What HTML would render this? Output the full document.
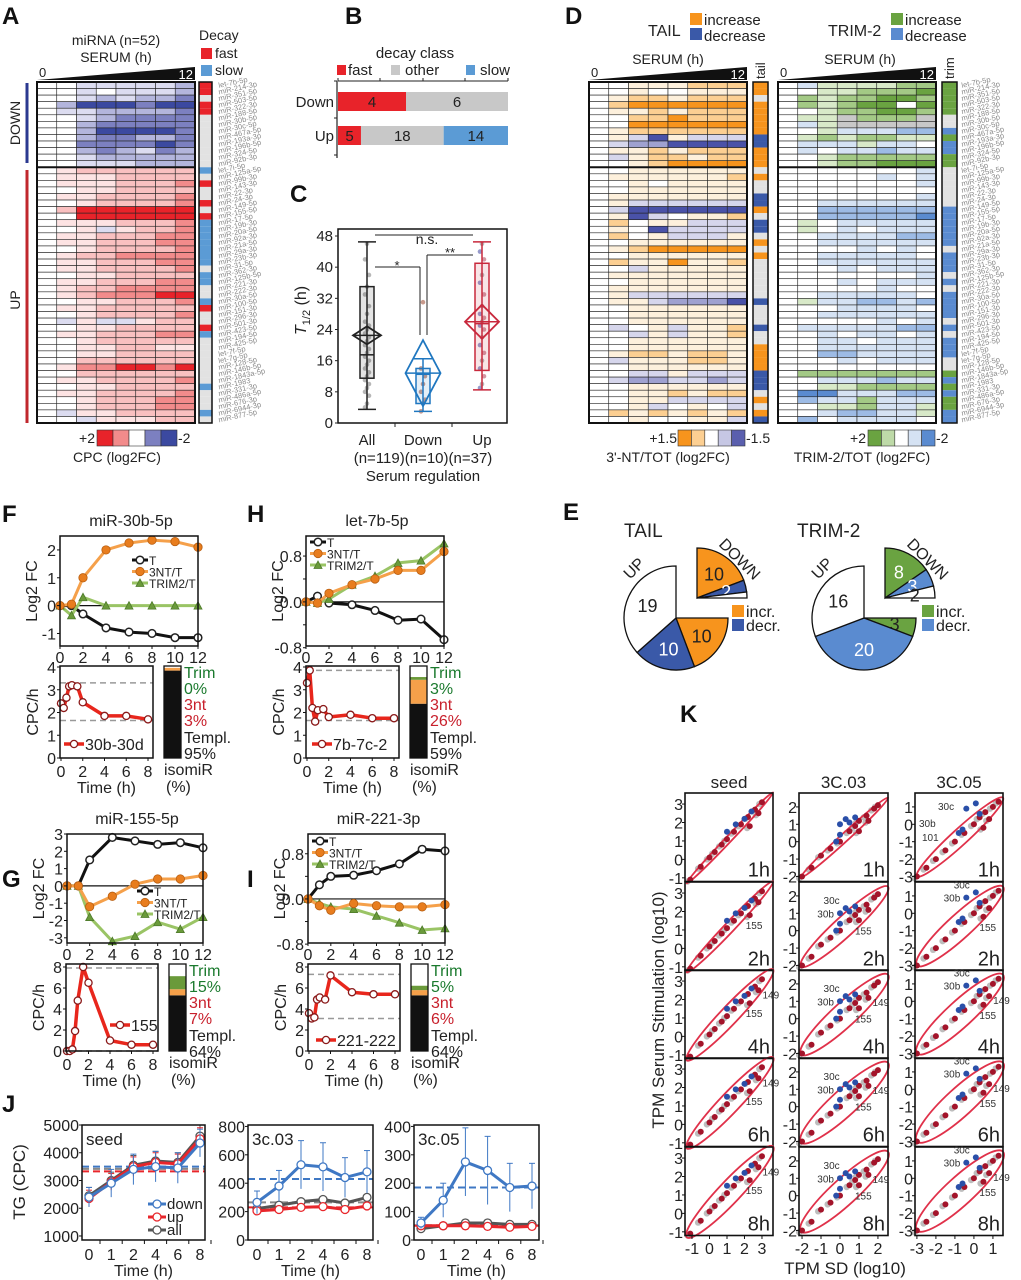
<!DOCTYPE html>
<html><head><meta charset="utf-8"><title>miRNA serum figure</title>
<style>
html,body{margin:0;padding:0;background:#fff;}
svg{display:block;font-family:"Liberation Sans",Arial,sans-serif;}
</style></head>
<body>
<svg id="fig" xmlns="http://www.w3.org/2000/svg" width="1021" height="1280" viewBox="0 0 1021 1280"></svg>
<script>
// ================= DATA =================
const miRNAs = ["let-7b-5p","miR-214-3p","miR-351-5p","miR-503-5p","miR-322-3p","miR-188-5p","miR-30b-5p","miR-30c-5p","miR-467a-5p","miR-193a-3p","miR-196b-5p","miR-324-5p","miR-92b-3p","let-7i-5p","miR-125a-5p","miR-99b-3p","miR-143-3p","miR-22-3p","miR-24-3p","miR-149-5p","miR-155-5p","miR-17-5p","miR-19b-3p","miR-20a-5p","miR-92a-3p","miR-21a-5p","miR-29a-3p","miR-23b-3p","miR-31-5p","miR-362-3p","miR-125b-5p","miR-221-3p","miR-222-3p","miR-30a-5p","miR-100-5p","miR-151-3p","miR-296-3p","miR-501-3p","miR-423-5p","miR-194-5p","miR-425-5p","let-7f-5p","let-7g-5p","miR-128-5p","miR-146b-5p","miR-1843a-5p","miR-1983","miR-331-3p","miR-486a-5p","miR-676-3p","miR-6944-3p","miR-877-5p"];
const heatA = ["00bbbbbc","00b0bbbc","00bcbccd","0ceeedee","0bbccccd","00bcdddd","00cddddd","00ceeeed","00cddccd","00dddded","00cdcbdc","00bccccc","00bbbccc",
"01222222","01112222","01112223","00112222","01122223","00122223","02444444","00444444","01112223","001b1223","01122233","01122233","00122223","01223333","01122233","01122223","00112222","01122233","01223333","01233344","00112223","01122222","00122223","0b1bb122","00112222","01122233","00122222","00112211","00112222","00222222","01334434","00222222","01122223","00112222","01122223","00122233","00122233","0b112222","00b11122"];
const decayA = ("ffoffoooooooo" + "sofoofof" + "sssssss" + "o" + "ss" + "oo" + "s" + "f" + "oo" + "f" + "s" + "ooooooo" + "s" + "ooo" + "s" + "o").padEnd(52, 'o');
const heatTail = ["00pppooo","00p00ppp","0poopooo","0oOOOOOO","0ppopooo","00ooOooo","00OOOOOO","0poooooo","0plBplll","0lmmBBBB","0ppopooo","0lpoopoo","00poOOOO","00pppppp","0ppppppo","00p0pppp","00pppppp","0ppppppp","0pllllll","0lBBBBBB","0pBl0ppo","0o0pplll","0p0Bllll","0o0plllp","00pppppp","0poOOOOO","00pppppp","0oppOppo","00lppppp","0ppppppp","00pppppp","0ppppppp","0pllllll","0pplmmmB","00pppppp","00pppppp","00pppppp","0l0plppo","00lplppo","00pppppp","00pppppp","0poopoop","0lpppoop","00pppppp","00llplll","0lmmllml","00pppppp","00ppopoo","00ppllll","00pl0p0l","0opopopo","00p00ppl"];
const tailCls = ("iioiiiiiddiii" + "oioodd" + "ioddoioi" + "oooooo" + "d" + "ooo" + "d" + "oo" + "iiii" + "ddd" + "oioid").padEnd(52, 'o');
const heatTrim = ["0lhhhhgg","00hhgggG","0ghggGGg","0ghgGG0G","00hggGGg","0hhxgggx","0lhxxxxx","00hlllmm","0hghgghh","0lllhll0","0l0llmll","00hggggg","00hggGGG","0000000l","00000l0l","0000000l","00000000","0000000l","00llllll","00mmmmmm","00mmmmmB","0h0lllll","0h0l0lll","00llllmm","00llllll","0000l0l0","00lllll0","00llllll","000l0lll","0000000l","000l0lll","00000l00","00lllll0","0hllmmlm","000llll0","00llllll","00000l0l","0lllllmm","00l0ll0l","00ll0lll","00llllll","00mmllll","000l0lll","00000000","0ggggggg","00lllmll","00hhgggg","0BBlllmm","0mllglll","00hhgllh","00lmmllh","0m0llll0"];
const trimCls = ("gggggoodgddgg" + "oooooo" + "dddddd" + "o" + "ddd" + "o" + "d" + "o" + "dddd" + "o" + "d" + "o" + "ddd" + "oo" + "g" + "d" + "g" + "d" + "gg" + "dd").padEnd(52, 'o');

// Panel B
const bGroups = ["Down","Up"];
const bFast = [4,5];
const bOther = [6,18];
const bSlow = [0,14];

// Panel C
const cCats = ["All","Down","Up"];
const cWLo = [3.5,3,8.5];
const cQ1 = [11.5,5,13.5];
const cMed = [17.5,12.5,25.5];
const cQ3 = [35,14,41];
const cWHi = [46.5,16.5,46.5];
const cMean = [22.5,12.8,26];
const cAllPts = [4,5,7,8,9,10,11,12,13,14,15,16,17,18,19,20,21,22,23,24,25,26,28,30,33,35,38,42,46];
const cDownPts = [3,5,6,8,10,12,14,31];
const cUpPts = [9,10,12,14,16,18,20,22,24,25,26,27,28,30,33,36,38,42,44,46];

// Panel E
const eTailUp = [10,10,19];
const eTailDown = [10,2,1];
const eTrimUp = [3,20,16];
const eTrimDown = [8,3,2];

// Panels F,G,H,I (log2FC)
const hours = [0,1,2,4,6,8,10,12];
const fT = [0,0,-0.3,-0.8,-0.95,-1.0,-1.15,-1.15];
const f3NT = [0,0.05,1.0,2.0,2.25,2.35,2.3,2.1];
const fTRIM = [0,-0.35,0.3,0,0,0,0,0];
const hT = [0,0.1,-0.02,-0.05,-0.15,-0.32,-0.3,-0.66];
const h3NT = [0,-0.02,0.15,0.3,0.4,0.55,0.55,0.88];
const hTRIM = [0,-0.02,0.05,0.3,0.45,0.68,0.72,1.02];
const gT = [0,0,1.5,2.8,2.6,2.4,2.5,2.2];
const g3NT = [0,0,-1.2,-0.6,0.1,0.4,0.4,0.6];
const gTRIM = [0,0,-1.8,-3.2,-2.9,-2.1,-2.5,-1.8];
const iT = [0,0.25,0.4,0.42,0.5,0.62,0.88,0.85];
const i3NT = [0,-0.12,-0.2,-0.08,-0.12,-0.14,-0.14,-0.1];
const iTRIM = [0,-0.08,-0.14,-0.18,-0.3,-0.42,-0.55,-0.52];
// CPC/h
const cpcTimes = [0,0.25,0.5,0.75,1,1.5,2,4,6,8];
const fCPC = [2.4,2.2,2.65,3.15,3.2,3.15,2.45,1.85,1.85,1.7];
const hCPC = [3.3,3.85,2.2,1.6,2.1,2.15,1.8,1.9,1.75,1.75];
const gCPC = [0,0,0.15,1.9,4.8,8,6.5,1,0.6,0.6];
const iCPC = [3.6,3.1,3.2,4.9,5.1,4.9,7.2,5.6,5.4,5.4];
// isomiR % [templ,3nt,trim]
const fIso = [95,3,0];
const hIso = [59,26,3];
const gIso = [64,7,15];
const iIso = [64,6,5];

// Panel J
const jCats = ["0","1","2","4","6","8"];
const jSeedDown = [2400,2900,3400,3500,3450,4350];
const jSeedUp = [2350,2950,3500,3650,3600,4500];
const jSeedAll = [2450,3000,3550,3700,3650,4600];
const j03Down = [265,380,530,515,440,480];
const j03Up = [205,215,230,235,215,240];
const j03All = [220,245,270,285,260,300];
const j05Down = [60,140,275,245,185,190];
const j05Up = [50,50,50,48,45,48];
const j05All = [40,50,60,60,55,55];
const j03DownErr = [80,110,170,170,140,150];
const j05DownErr = [20,60,120,120,85,80];

// Panel K points (x,y)
const kSeedRedX = [-1.1,-0.5,0,0.3,0.7,1,1.4,1.8,2.2,2.6,3,2.3,2.8];
const kSeedRedY = [-1.1,-0.4,0.1,0.4,0.8,1.1,1.5,1.9,2.3,2.7,3.1,1.8,2.5];
const kSeedBlueX = [1,1.5,2,2.4];
const kSeedBlueY = [1.5,1.9,2.2,2.6];
const k03RedX = [-2,-1.5,-1,-0.5,0,0.5,0.8,1,1.4,1.8,2,1,1.5];
const k03RedY = [-2,-1.5,-0.8,-0.4,0,0.6,0.9,1.2,1.5,1.9,2.1,0.6,1.2];
const k03BlueX = [0,0.3,0.5,0.8,0,-0.2];
const k03BlueY = [1,1.3,1.1,1.4,0.4,0];
const k05RedX = [-3,-2.5,-2,-1.5,-1,-0.5,0,0.3,0.6,1,1.3,0.5,0.8];
const k05RedY = [-3,-2.5,-2,-1.5,-1,-0.5,0,0.4,0.7,1,1.3,-0.2,0.3];
const k05BlueX = [-0.4,0.1,-0.8,-0.6,0.3];
const k05BlueY = [0.9,1.2,-0.5,-0.3,0.6];
const kTimes = ["1h","2h","4h","6h","8h"];

// ================= HELPERS =================
const NS = "http://www.w3.org/2000/svg";
const svg = document.getElementById("fig");
function mk(tag, attrs, name, parent, inter) {
  const e = document.createElementNS(NS, tag);
  for (const k in attrs) e.setAttribute(k, attrs[k]);
  
  
  (parent || svg).appendChild(e);
  return e;
}
function txt(x, y, s, name, o) {
  o = o || {};
  const a = {x:x, y:y, 'font-size':o.size||14, fill:o.fill||'#222'};
  if (o.anchor) a['text-anchor'] = o.anchor;
  if (o.weight) a['font-weight'] = o.weight;
  if (o.style) a['font-style'] = o.style;
  if (o.rot !== undefined) a.transform = 'rotate(' + o.rot + ' ' + x + ' ' + y + ')';
  const t = mk('text', a, name, o.parent);
  t.textContent = s;
  return t;
}
function lin(d0, d1, r0, r1) { return v => r0 + (v - d0) * (r1 - r0) / (d1 - d0); }
function rect(x, y, w, h, fill, name, o) {
  o = o || {};
  const a = {x:x, y:y, width:w, height:h, fill:fill};
  if (o.stroke) { a.stroke = o.stroke; a['stroke-width'] = o.sw || 1; }
  return mk('rect', a, name, o.parent);
}
function line(x1, y1, x2, y2, stroke, sw, name, dash) {
  const a = {x1:x1, y1:y1, x2:x2, y2:y2, stroke:stroke, 'stroke-width':sw};
  if (dash) a['stroke-dasharray'] = dash;
  return mk('line', a, name);
}
function letter(x, y, s) { txt(x, y, s, 'panel-label-' + s.toLowerCase(), {size:24, weight:'bold', fill:'#111'}); }

// ================= PANEL A =================
letter(2, 24, 'A');
const colA = {'0':'#ffffff','1':'#fde3e3','2':'#f9c0c0','3':'#f28b8b','4':'#e8232a','b':'#dcdcf0','c':'#b3b5dc','d':'#7c80c0','e':'#3b49a0'};
const colTail = {'0':'#ffffff','p':'#fdf0dc','o':'#fccf92','O':'#f7941d','l':'#d6d6ec','m':'#9fa1d0','B':'#4a52a8'};
const colTrim = {'0':'#ffffff','h':'#d8e9c8','g':'#a3c985','G':'#6aa341','x':'#c8c8c8','l':'#d5e2f3','m':'#9dbbe5','B':'#5a8bd0'};
const RY0 = 82, RY1 = 423, RH = (RY1 - RY0) / 52;
function heatmap(x0, x1, rows, cmap, nm) {
  const cw = (x1 - x0) / 8;
  rows.forEach((r, i) => {
    for (let j = 0; j < 8; j++) {
      rect(x0 + j * cw, RY0 + i * RH, cw, RH, cmap[r[j]] || '#fff', nm + '-cell', {stroke:'#222', sw:0.6});
    }
  });
  mk('rect', {x:x0, y:RY0, width:x1 - x0, height:RY1 - RY0, fill:'none', stroke:'#111', 'stroke-width':2}, nm + '-border');
  line(x0, RY0 + 13 * RH, x1, RY0 + 13 * RH, '#111', 2, nm + '-down-up-separator');
}
function classCol(x0, w, s, cmap, nm) {
  for (let i = 0; i < 52; i++) rect(x0, RY0 + i * RH, w, RH, cmap[s[i]] || '#e2e2e2', nm + '-cell');
  mk('rect', {x:x0, y:RY0, width:w, height:RY1 - RY0, fill:'none', stroke:'#111', 'stroke-width':1.5}, nm + '-border');
}
function rowLabels(x) {
  miRNAs.forEach((m, i) => txt(x, RY0 + i * RH + RH * 0.9, m, 'row-label', {size:7.5, fill:'#8a8a8a', rot:-12}));
}
function wedge(x0, x1, nm) {
  mk('polygon', {points: x0 + ',80 ' + x1 + ',67 ' + x1 + ',80', fill:'#111'}, nm);
  txt(x0 + 2, 77, '0', nm + '-start-label', {size:13});
  txt(x1 - 2, 79, '12', nm + '-end-label', {size:13, fill:'#fff', anchor:'end'});
}
heatmap(37, 195, heatA, colA, 'heatmap-a');
classCol(199, 13, decayA, {f:'#e8232a', s:'#5b9bd5', o:'#e2e2e2'}, 'decay-column');
rowLabels(219);
txt(116, 45, 'miRNA (n=52)', 'heatmap-a-title', {size:14, anchor:'middle'});
txt(116, 62, 'SERUM (h)', 'heatmap-a-serum-label', {size:14, anchor:'middle'});
wedge(37, 195, 'serum-wedge-a');
txt(199, 40, 'Decay', 'decay-legend-title', {size:14});
rect(201, 48, 11, 11, '#e8232a', 'decay-legend-fast-swatch');
txt(215, 58, 'fast', 'decay-legend-fast-label', {size:14});
rect(201, 65, 11, 11, '#5b9bd5', 'decay-legend-slow-swatch');
txt(215, 75, 'slow', 'decay-legend-slow-label', {size:14});
line(27, 83, 27, 163, '#2b3990', 3, 'down-group-bar');
line(27, 170, 27, 423, '#c0272d', 3, 'up-group-bar');
txt(20, 123, 'DOWN', 'down-group-label', {size:14, anchor:'middle', rot:-90});
txt(20, 300, 'UP', 'up-group-label', {size:14, anchor:'middle', rot:-90});
['#e8232a','#f28b8b','#ffffff','#7c80c0','#3b49a0'].forEach((c, i) => rect(97 + i * 16, 430, 16, 16, c, 'cpc-color-legend-swatch', {stroke:'#333', sw:0.6}));
txt(95, 443, '+2', 'cpc-legend-max', {size:14, anchor:'end'});
txt(178, 443, '-2', 'cpc-legend-min', {size:14});
txt(117, 462, 'CPC (log2FC)', 'cpc-legend-title', {size:14, anchor:'middle'});

// ================= PANEL B =================
letter(345, 24, 'B');
txt(415, 58, 'decay class', 'decay-class-title', {size:15, anchor:'middle'});
rect(337, 65, 9, 10, '#e8232a', 'legend-fast-swatch'); txt(348, 75, 'fast', 'legend-fast-label', {size:15});
rect(391, 65, 9, 10, '#c8c8c8', 'legend-other-swatch'); txt(405, 75, 'other', 'legend-other-label', {size:15});
rect(466, 65, 9, 10, '#5b9bd5', 'legend-slow-swatch'); txt(480, 75, 'slow', 'legend-slow-label', {size:15});
line(338, 81, 508, 81, '#222', 1, 'b-top-axis');
[338, 380, 423, 465, 508].forEach(x => line(x, 78, x, 81, '#222', 1, 'b-top-tick'));
line(337, 81, 337, 158, '#222', 1.2, 'b-left-axis');
[81, 118, 155].forEach(y => line(334, y, 337, y, '#222', 1, 'b-left-tick'));
const bx = lin(0, 1, 338, 508);
bGroups.forEach((g, i) => {
  const tot = bFast[i] + bOther[i] + bSlow[i];
  const y = i === 0 ? 92 : 126;
  let acc = 0;
  [[bFast[i], '#e8232a', 'fast'], [bOther[i], '#c8c8c8', 'other'], [bSlow[i], '#5b9bd5', 'slow']].forEach(s => {
    if (s[0] > 0) {
      const xa = bx(acc / tot), xb = bx((acc + s[0]) / tot);
      rect(xa, y, xb - xa, 19, s[1], 'bar-' + g.toLowerCase() + '-' + s[2]);
      txt((xa + xb) / 2, y + 15, String(s[0]), 'bar-value-' + g.toLowerCase() + '-' + s[2], {size:15, anchor:'middle'});
    }
    acc += s[0];
  });
  txt(334, y + 15, g, 'b-category-' + g.toLowerCase(), {size:15, anchor:'end'});
});

// ================= PANEL C =================
letter(290, 202, 'C');
const cy = lin(0, 48, 423, 236);
const cxs = [367, 423, 482];
const cCol = ['#222', '#1f77c0', '#c8283c'];
mk('rect', {x:338, y:229, width:169, height:194, fill:'none', stroke:'#111', 'stroke-width':1.5}, 'c-plot-frame');
[0, 8, 16, 24, 32, 40, 48].forEach(v => {
  line(335, cy(v), 338, cy(v), '#222', 1, 'c-y-tick');
  txt(333, cy(v) + 5, String(v), 'c-y-tick-label', {size:15, anchor:'end'});
});
const yl = txt(306, 335, 'T', 'c-y-axis-title', {size:16, style:'italic', rot:-90});
const sub = document.createElementNS(NS, 'tspan'); sub.setAttribute('font-size', '11'); sub.setAttribute('font-style', 'normal'); sub.setAttribute('dy', '4'); sub.textContent = '1/2'; yl.appendChild(sub);
const rest = document.createElementNS(NS, 'tspan'); rest.setAttribute('dy', '-4'); rest.setAttribute('font-style', 'normal'); rest.textContent = ' (h)'; yl.appendChild(rest);
[cAllPts, cDownPts, cUpPts].forEach((pts, i) => {
  pts.forEach((v, k) => mk('circle', {cx:cxs[i] + ((k % 3) - 1) * 2, cy:cy(v), r:2.3, fill: i === 2 ? (k % 3 === 0 ? '#6a6fb5' : (k % 3 === 1 ? '#999' : '#c06a7a')) : (i === 1 ? '#b06f5b' : '#999'), opacity:0.7}, 'c-point-' + cCats[i].toLowerCase()));
});
cCats.forEach((c, i) => {
  const x = cxs[i], col = cCol[i], n = c.toLowerCase();
  line(x, cy(cWLo[i]), x, cy(cWHi[i]), col, 1.5, 'c-whisker-' + n);
  line(x - 9, cy(cWLo[i]), x + 9, cy(cWLo[i]), col, 1.5, 'c-whisker-cap-low-' + n);
  line(x - 9, cy(cWHi[i]), x + 9, cy(cWHi[i]), col, 1.5, 'c-whisker-cap-high-' + n);
  mk('rect', {x:x - 7, y:cy(cQ3[i]), width:14, height:cy(cQ1[i]) - cy(cQ3[i]), fill:col, 'fill-opacity':0.12, stroke:col, 'stroke-width':1.5}, 'c-box-' + n);
  line(x - 7, cy(cMed[i]), x + 7, cy(cMed[i]), col, 1.5, 'c-median-' + n);
  const dh = [9, 33, 17][i], dw = [14, 17.5, 17][i], my = cy(cMean[i]);
  mk('polygon', {points:(x - dw) + ',' + my + ' ' + x + ',' + (my - dh) + ' ' + (x + dw) + ',' + my + ' ' + x + ',' + (my + dh), fill:'none', stroke:col, 'stroke-width':1.8}, 'c-mean-diamond-' + n);
  line(x - dw, my, x + dw, my, col, 1.5, 'c-mean-line-' + n);
  txt(x, 445, c, 'c-x-label-' + n, {size:15, anchor:'middle'});
});
txt(423, 463, '(n=119)(n=10)(n=37)', 'c-x-counts', {size:15, anchor:'middle'});
txt(423, 481, 'Serum regulation', 'c-x-axis-title', {size:15, anchor:'middle'});
[395, 452].forEach(x => line(x, 423, x, 427, '#222', 1, 'c-x-tick'));
line(375, 235, 473, 235, '#222', 1, 'sig-ns-line');
txt(427, 244, 'n.s.', 'sig-ns-label', {size:14, anchor:'middle'});
line(427, 255, 473, 255, '#222', 1, 'sig-up-down-line'); line(427, 255, 427, 335, '#222', 1, 'sig-up-down-drop');
txt(450, 257, '**', 'sig-up-down-label', {size:13, anchor:'middle'});
line(375, 267, 420, 267, '#222', 1, 'sig-all-down-line'); line(420, 267, 420, 335, '#222', 1, 'sig-all-down-drop');
txt(397, 270, '*', 'sig-all-down-label', {size:13, anchor:'middle'});

// ================= PANEL D =================
letter(565, 24, 'D');
heatmap(589, 747, heatTail, colTail, 'heatmap-tail');
classCol(753, 15, tailCls, {i:'#f7941d', d:'#3a59a8', o:'#e2e2e2'}, 'tail-column');
heatmap(778, 936, heatTrim, colTrim, 'heatmap-trim');
classCol(942, 15, trimCls, {g:'#6aa341', d:'#5a8bd0', o:'#e2e2e2'}, 'trim-column');
rowLabels(962);
txt(648, 36, 'TAIL', 'tail-legend-title', {size:16});
rect(690, 13, 12, 12, '#f7941d', 'tail-increase-swatch'); txt(704, 25, 'increase', 'tail-increase-label', {size:15});
rect(690, 28, 12, 12, '#3a59a8', 'tail-decrease-swatch'); txt(704, 41, 'decrease', 'tail-decrease-label', {size:15});
txt(828, 36, 'TRIM-2', 'trim-legend-title', {size:16});
rect(891, 13, 12, 12, '#6aa341', 'trim-increase-swatch'); txt(905, 25, 'increase', 'trim-increase-label', {size:15});
rect(891, 28, 12, 12, '#5a8bd0', 'trim-decrease-swatch'); txt(905, 41, 'decrease', 'trim-decrease-label', {size:15});
txt(668, 64, 'SERUM (h)', 'tail-serum-label', {size:14, anchor:'middle'});
txt(860, 64, 'SERUM (h)', 'trim-serum-label', {size:14, anchor:'middle'});
wedge(589, 747, 'serum-wedge-tail'); wedge(778, 936, 'serum-wedge-trim');
txt(765, 79, 'tail', 'tail-column-title', {size:13, rot:-90});
txt(954, 79, 'trim', 'trim-column-title', {size:13, rot:-90});
['#f7941d','#fccf92','#ffffff','#c6c7e4','#5a5fae'].forEach((c, i) => rect(678 + i * 13.4, 430, 13.4, 16, c, 'tail-color-legend-swatch', {stroke:'#333', sw:0.6}));
txt(677, 443, '+1.5', 'tail-legend-max', {size:14, anchor:'end'});
txt(746, 443, '-1.5', 'tail-legend-min', {size:14});
txt(668, 462, "3'-NT/TOT (log2FC)", 'tail-legend-caption', {size:14, anchor:'middle'});
['#6aa341','#bedaa8','#ffffff','#d5e2f3','#5a8bd0'].forEach((c, i) => rect(868 + i * 13.4, 430, 13.4, 16, c, 'trim-color-legend-swatch', {stroke:'#333', sw:0.6}));
txt(866, 443, '+2', 'trim-legend-max', {size:14, anchor:'end'});
txt(936, 443, '-2', 'trim-legend-min', {size:14});
txt(862, 462, 'TRIM-2/TOT (log2FC)', 'trim-legend-caption', {size:14, anchor:'middle'});

// ================= PANEL E =================
letter(563, 520, 'E');
function pt(cx, cy0, r, a) { const t = a * Math.PI / 180; return [cx + r * Math.sin(t), cy0 - r * Math.cos(t)]; }
function pie(cx, cy0, r, vals, start, span, cols, nm, txtCols) {
  const tot = vals.reduce((a, b) => a + b, 0);
  let a = start;
  vals.forEach((v, i) => {
    const b = a + span * v / tot;
    const p0 = pt(cx, cy0, r, a), p1 = pt(cx, cy0, r, b);
    mk('path', {d:'M' + cx + ',' + cy0 + ' L' + p0[0] + ',' + p0[1] + ' A' + r + ',' + r + ' 0 ' + (b - a > 180 ? 1 : 0) + ' 1 ' + p1[0] + ',' + p1[1] + ' Z', fill:cols[i], stroke:'#111', 'stroke-width':1.3}, nm + '-slice-' + i);
    const m = pt(cx, cy0, r * 0.6, (a + b) / 2);
    if (v >= 2) txt(m[0], m[1] + 7, String(v), nm + '-slice-value-' + i, {size:18, anchor:'middle', fill:txtCols[i]});
    a = b;
  });
}
pie(676, 618, 52, eTailUp, 90, 270, ['#f7941d', '#3a59a8', '#fff'], 'tail-up-pie', ['#222', '#fff', '#222']);
pie(697, 598, 50, eTailDown, 0, 90, ['#f7941d', '#3a59a8', '#fff'], 'tail-down-pie', ['#222', '#fff', '#222']);
pie(864, 618, 52, eTrimUp, 90, 270, ['#6aa341', '#5a8bd0', '#fff'], 'trim-up-pie', ['#222', '#fff', '#222']);
pie(885, 598, 50, eTrimDown, 0, 90, ['#6aa341', '#5a8bd0', '#fff'], 'trim-down-pie', ['#fff', '#fff', '#222']);
txt(624, 537, 'TAIL', 'e-tail-title', {size:19});
txt(797, 537, 'TRIM-2', 'e-trim-title', {size:19});
txt(630, 580, 'UP', 'e-tail-up-label', {size:16, rot:-45});
txt(818, 580, 'UP', 'e-trim-up-label', {size:16, rot:-45});
txt(718, 545, 'DOWN', 'e-tail-down-label', {size:16, rot:45});
txt(906, 545, 'DOWN', 'e-trim-down-label', {size:16, rot:45});
rect(732, 605, 12, 12, '#f7941d', 'e-tail-incr-swatch'); txt(746, 617, 'incr.', 'e-tail-incr-label', {size:16});
rect(732, 619, 12, 12, '#3a59a8', 'e-tail-decr-swatch'); txt(746, 631, 'decr.', 'e-tail-decr-label', {size:16});
rect(922, 605, 12, 12, '#6aa341', 'e-trim-incr-swatch'); txt(936, 617, 'incr.', 'e-trim-incr-label', {size:16});
rect(922, 619, 12, 12, '#5a8bd0', 'e-trim-decr-swatch'); txt(936, 631, 'decr.', 'e-trim-decr-label', {size:16});

// ================= PANELS F,G,H,I =================
function marker(x, y, kind, nm) {
  if (kind === 'tri') mk('polygon', {points:(x - 4) + ',' + (y + 3.5) + ' ' + (x + 4) + ',' + (y + 3.5) + ' ' + x + ',' + (y - 4), fill:'#6a9a3a', stroke:'#4d7a2a', 'stroke-width':0.8}, nm);
  else if (kind === 'orange') mk('circle', {cx:x, cy:y, r:4.2, fill:'#e87d1e', stroke:'#b85e10', 'stroke-width':0.8}, nm);
  else if (kind === 'open') mk('circle', {cx:x, cy:y, r:3.8, fill:'#fff', stroke:'#222', 'stroke-width':1.5}, nm);
  else mk('circle', {cx:x, cy:y, r:3.6, fill:'#fff', stroke:'#8b1a1a', 'stroke-width':1.3}, nm);
}
function series(xs, ys, sx, sy, col, sw, kind, nm) {
  const pts = xs.map((x, i) => sx(x) + ',' + sy(ys[i])).join(' ');
  mk('polyline', {points:pts, fill:'none', stroke:col, 'stroke-width':sw, 'stroke-linejoin':'round'}, nm + '-line');
  xs.forEach((x, i) => marker(sx(x), sy(ys[i]), kind, nm + '-point'));
}
function fcPanel(o) {
  const sx = lin(0, 12, o.x0, o.x1), sy = lin(o.yd[0], o.yd[1], o.y1, o.y0);
  txt((o.x0 + o.x1) / 2 + 2, o.y0 - 10, o.title, o.nm + '-title', {size:16, anchor:'middle'});
  line(o.x0, sy(0), o.x1, sy(0), '#111', 1.2, o.nm + '-zero-line');
  series(hours, o.T, sx, sy, '#111', 3, 'open', o.nm + '-series-t');
  series(hours, o.TRIM, sx, sy, '#9ac465', 3, 'tri', o.nm + '-series-trim2');
  series(hours, o.NT, sx, sy, '#f5a04a', 3, 'orange', o.nm + '-series-3nt');
  mk('rect', {x:o.x0, y:o.y0, width:o.x1 - o.x0, height:o.y1 - o.y0, fill:'none', stroke:'#111', 'stroke-width':1.5}, o.nm + '-frame');
  o.yt.forEach((v, i) => { line(o.x0 - 3, sy(v), o.x0, sy(v), '#111', 1, o.nm + '-y-tick'); if (o.ytl[i]) txt(o.x0 - 4, sy(v) + 6, o.ytl[i], o.nm + '-y-tick-label', {size:16, anchor:'end'}); });
  [0, 2, 4, 6, 8, 10, 12].forEach(h => { line(sx(h), o.y1, sx(h), o.y1 + 3, '#111', 1, o.nm + '-x-tick'); txt(sx(h), o.y1 + 17, String(h), o.nm + '-x-tick-label', {size:16, anchor:'middle'}); });
  txt(o.x0 - 23, (o.y0 + o.y1) / 2, 'Log2 FC', o.nm + '-y-axis-title', {size:16, anchor:'middle', rot:-90});
  const lg = o.leg;
  [['T', '#111', 'open'], ['3NT/T', '#f5a04a', 'orange'], ['TRIM2/T', '#9ac465', 'tri']].forEach((e, i) => {
    const y = lg[1] + i * 11.5;
    line(lg[0], y, lg[0] + 16, y, e[1], 3, o.nm + '-legend-line');
    marker(lg[0] + 8, y, e[2], o.nm + '-legend-marker');
    txt(lg[0] + 17, y + 5, e[0], o.nm + '-legend-label', {size:12});
  });
}
function cpcPanel(o) {
  const sx = lin(0, 8, o.x0 + 1, o.x1 - 5), sy = lin(0, o.ymax, o.y1, o.ytop);
  o.dash.forEach(v => line(o.x0, sy(v), o.x1, sy(v), '#999', 1.5, o.nm + '-reference-dash', '6,4'));
  series(cpcTimes, o.v, sx, sy, '#e8261c', 3.5, 'red', o.nm + '-series-cpc');
  mk('rect', {x:o.x0, y:o.y0, width:o.x1 - o.x0, height:o.y1 - o.y0, fill:'none', stroke:'#111', 'stroke-width':1.5}, o.nm + '-frame');
  o.yt.forEach(v => { line(o.x0 - 3, sy(v), o.x0, sy(v), '#111', 1, o.nm + '-y-tick'); txt(o.x0 - 4, sy(v) + 6, String(v), o.nm + '-y-tick-label', {size:16, anchor:'end'}); });
  [0, 2, 4, 6, 8].forEach(h => { line(sx(h), o.y1, sx(h), o.y1 + 3, '#111', 1, o.nm + '-x-tick'); txt(sx(h), o.y1 + 19, String(h), o.nm + '-x-tick-label', {size:16, anchor:'middle'}); });
  txt((o.x0 + o.x1) / 2, o.y1 + 35, 'Time (h)', o.nm + '-x-axis-title', {size:16, anchor:'middle'});
  txt(o.x0 - 22, (o.y0 + o.y1) / 2, 'CPC/h', o.nm + '-y-axis-title', {size:16, anchor:'middle', rot:-90});
  line(o.lg[0], o.lg[1], o.lg[0] + 20, o.lg[1], '#e8261c', 3.5, o.nm + '-legend-line');
  marker(o.lg[0] + 10, o.lg[1], 'red', o.nm + '-legend-marker');
  txt(o.lg[0] + 21, o.lg[1] + 6, o.lab, o.nm + '-legend-label', {size:16});
  const bx0 = o.x1 + 11, bw = 17, by = lin(0, 100, o.y1, o.y0);
  const iso = o.iso;
  rect(bx0, by(iso[0]), bw, o.y1 - by(iso[0]), '#111', o.nm + '-iso-templ');
  rect(bx0, by(iso[0] + iso[1]), bw, by(iso[0]) - by(iso[0] + iso[1]), '#f5a04a', o.nm + '-iso-3nt');
  rect(bx0, by(iso[0] + iso[1] + iso[2]), bw, by(iso[0] + iso[1]) - by(iso[0] + iso[1] + iso[2]), '#6a9a3a', o.nm + '-iso-trim');
  mk('rect', {x:bx0, y:o.y0, width:bw, height:o.y1 - o.y0, fill:'none', stroke:'#111', 'stroke-width':1.3}, o.nm + '-iso-frame');
  const tx = bx0 + bw + 3, ty = o.y0 + 12;
  txt(tx, ty, 'Trim', o.nm + '-iso-trim-label', {size:16, fill:'#1b7a2e'});
  txt(tx, ty + 16, iso[2] + '%', o.nm + '-iso-trim-pct', {size:16, fill:'#1b7a2e'});
  txt(tx, ty + 32, '3nt', o.nm + '-iso-3nt-label', {size:16, fill:'#c8202c'});
  txt(tx, ty + 48, iso[1] + '%', o.nm + '-iso-3nt-pct', {size:16, fill:'#c8202c'});
  txt(tx, ty + 65, 'Templ.', o.nm + '-iso-templ-label', {size:16});
  txt(tx, ty + 81, iso[0] + '%', o.nm + '-iso-templ-pct', {size:16});
  txt(bx0, o.y1 + 17, 'isomiR', o.nm + '-iso-axis-label', {size:16});
  txt(bx0 + 2, o.y1 + 34, '(%)', o.nm + '-iso-axis-unit', {size:16});
}
letter(2, 522, 'F'); letter(247, 522, 'H'); letter(2, 887, 'G'); letter(247, 887, 'I');
fcPanel({nm:'f-fc', title:'miR-30b-5p', x0:60, x1:198, y0:536, y1:646, yd:[-1.45, 2.5], T:fT, NT:f3NT, TRIM:fTRIM, yt:[-1, 0, 1, 2], ytl:['-1', '0', '1', '2'], leg:[132, 560]});
cpcPanel({nm:'f-cpc', x0:60, x1:153, y0:666, y1:758, ymax:4, ytop:667, v:fCPC, dash:[3.3, 1.65], yt:[0, 1, 2, 3, 4], lab:'30b-30d', lg:[64, 744], iso:fIso});
fcPanel({nm:'h-fc', title:'let-7b-5p', x0:306, x1:444, y0:536, y1:646, yd:[-0.77, 1.15], T:hT, NT:h3NT, TRIM:hTRIM, yt:[-0.8, -0.4, 0, 0.4, 0.8], ytl:['-0.8', '', '0.0', '', '0.8'], leg:[310, 542]});
cpcPanel({nm:'h-cpc', x0:306, x1:399, y0:666, y1:758, ymax:4, ytop:667, v:hCPC, dash:[3.85, 1.65], yt:[0, 1, 2, 3, 4], lab:'7b-7c-2', lg:[312, 744], iso:hIso});
fcPanel({nm:'g-fc', title:'miR-155-5p', x0:67, x1:203, y0:834, y1:943, yd:[-3.3, 3.0], T:gT, NT:g3NT, TRIM:gTRIM, yt:[-3, -2, -1, 0, 1, 2, 3], ytl:['-3', '-2', '-1', '0', '1', '2', '3'], leg:[137, 891]});
cpcPanel({nm:'g-cpc', x0:66, x1:158, y0:964, y1:1051, ymax:8, ytop:967, v:gCPC, dash:[7.9, 0], yt:[0, 2, 4, 6, 8], lab:'155', lg:[110, 1025], iso:gIso});
fcPanel({nm:'i-fc', title:'miR-221-3p', x0:308, x1:445, y0:834, y1:943, yd:[-0.78, 1.15], T:iT, NT:i3NT, TRIM:iTRIM, yt:[-0.8, -0.4, 0, 0.4, 0.8], ytl:['-0.8', '', '0.0', '', '0.8'], leg:[312, 841]});
cpcPanel({nm:'i-cpc', x0:308, x1:400, y0:964, y1:1051, ymax:8, ytop:967, v:iCPC, dash:[7.3, 3.1], yt:[0, 2, 4, 6, 8], lab:'221-222', lg:[316, 1040], iso:iIso});

// ================= PANEL J =================
letter(2, 1112, 'J');
function jPanel(o) {
  const sx = i => o.cx0 + i * (o.cx1 - o.cx0) / 5, sy = lin(o.ymin || 0, o.ymax, o.y1, o.y0);
  o.dash.forEach(d => line(o.x0, sy(d[0]), o.x1, sy(d[0]), d[1], 2, o.nm + '-mean-dash', '7,4'));
  [[o.all, '#555', o.errAll], [o.up, '#e8262b', o.errUp], [o.down, '#3f78c4', o.errDown]].forEach((s, si) => {
    const nmS = o.nm + '-series-' + ['all', 'up', 'down'][si];
    s[0].forEach((v, i) => {
      const e = s[2][i];
      line(sx(i), sy(v - e), sx(i), sy(v + e), s[1], 1, nmS + '-errorbar');
      line(sx(i) - 3, sy(v + e), sx(i) + 3, sy(v + e), s[1], 1, nmS + '-errorcap');
    });
    mk('polyline', {points:s[0].map((v, i) => sx(i) + ',' + sy(v)).join(' '), fill:'none', stroke:s[1], 'stroke-width':3}, nmS + '-line');
    s[0].forEach((v, i) => mk('circle', {cx:sx(i), cy:sy(v), r:4, fill:'#fff', stroke:s[1], 'stroke-width':1.3}, nmS + '-point'));
  });
  mk('rect', {x:o.x0, y:o.y0, width:o.x1 - o.x0, height:o.y1 - o.y0, fill:'none', stroke:'#111', 'stroke-width':1.5}, o.nm + '-frame');
  o.yt.forEach(v => { line(o.x0 - 3, sy(v), o.x0, sy(v), '#111', 1, o.nm + '-y-tick'); txt(o.x0 - 3, sy(v) + 6, String(v), o.nm + '-y-tick-label', {size:16, anchor:'end'}); });
  jCats.forEach((c, i) => { line(sx(i) + 11, o.y1, sx(i) + 11, o.y1 + 4, '#111', 1, o.nm + '-x-tick'); txt(sx(i), o.y1 + 20, c, o.nm + '-x-tick-label', {size:16, anchor:'middle'}); });
  txt((o.x0 + o.x1) / 2, o.y1 + 36, 'Time (h)', o.nm + '-x-axis-title', {size:16, anchor:'middle'});
  txt(o.x0 + 4, o.y0 + 20, o.title, o.nm + '-title', {size:17});
}
jPanel({nm:'j-seed', title:'seed', x0:82, x1:205, y0:1125, y1:1240, cx0:89, cx1:200, ymin:855, ymax:5000, yt:[1000, 2000, 3000, 4000, 5000], dash:[[3500, '#3f78c4'], [3420, '#888'], [3330, '#e8262b']], down:jSeedDown, up:jSeedUp, all:jSeedAll, errDown:[350, 500, 550, 550, 550, 500], errUp:[300, 300, 350, 350, 350, 400], errAll:[300, 300, 350, 350, 350, 400]});
jPanel({nm:'j-3c03', title:'3c.03', x0:248, x1:373, y0:1125, y1:1240, cx0:257, cx1:367, ymax:810, yt:[0, 200, 400, 600, 800], dash:[[430, '#3f78c4'], [265, '#888'], [230, '#e8262b']], down:j03Down, up:j03Up, all:j03All, errDown:j03DownErr, errUp:[15, 15, 15, 15, 15, 15], errAll:[15, 15, 15, 15, 15, 15]});
jPanel({nm:'j-3c05', title:'3c.05', x0:414, x1:539, y0:1125, y1:1240, cx0:421, cx1:532, ymax:405, yt:[0, 100, 200, 300, 400], dash:[[185, '#3f78c4'], [52, '#888'], [50, '#e8262b']], down:j05Down, up:j05Up, all:j05All, errDown:j05DownErr, errUp:[5, 5, 5, 5, 5, 5], errAll:[5, 5, 5, 5, 5, 5]});
txt(25, 1182, 'TG (CPC)', 'j-y-axis-title', {size:17, anchor:'middle', rot:-90});
[['down', '#3f78c4'], ['up', '#e8262b'], ['all', '#555']].forEach((e, i) => {
  const y = 1204 + i * 13;
  line(148, y, 166, y, e[1], 3, 'j-legend-line-' + e[0]);
  mk('circle', {cx:157, cy:y, r:4, fill:'#fff', stroke:e[1], 'stroke-width':1.3}, 'j-legend-marker-' + e[0]);
  txt(167, y + 5, e[0], 'j-legend-label-' + e[0], {size:15});
});

// ================= PANEL K =================
letter(680, 722, 'K');
const kRowsY = [793, 882, 970, 1058, 1147];
const kCols = [
  {nm:'seed', x0:685, x1:773, xd:[-1.4, 3.63], yd:[-1.2, 3.6], ticks:[-1, 0, 1, 2, 3], xt:[-1, 0, 1, 2, 3], rx:kSeedRedX, ry:kSeedRedY, bx:kSeedBlueX, by:kSeedBlueY, w:[3, 5, 9, 10, 11]},
  {nm:'3c03', x0:799, x1:888, xd:[-2.16, 2.53], yd:[-2.29, 2.8], ticks:[-2, -1, 0, 1, 2], xt:[-2, -1, 0, 1, 2], rx:k03RedX, ry:k03RedY, bx:k03BlueX, by:k03BlueY, w:[4, 10, 12, 13, 13]},
  {nm:'3c05', x0:915, x1:1003, xd:[-3.1, 1.53], yd:[-3.29, 1.8], ticks:[-3, -2, -1, 0, 1], xt:[-3, -2, -1, 0, 1], rx:k05RedX, ry:k05RedY, bx:k05BlueX, by:k05BlueY, w:[8, 12, 13, 14, 14]}
];
const kTitles = ['seed', '3C.03', '3C.05'];
kCols.forEach((c, ci) => {
  txt((c.x0 + c.x1) / 2, 788, kTitles[ci], 'k-column-title-' + c.nm, {size:17, anchor:'middle'});
  kRowsY.forEach((ry, ri) => {
    const y0 = ry, y1 = ry + 88.5;
    const sx = lin(c.xd[0], c.xd[1], c.x0, c.x1), sy = lin(c.yd[0], c.yd[1], y1, y0);
    const nm = 'k-' + c.nm + '-' + kTimes[ri];
    const ax = sx(c.xd[0] + 0.1), ay = sy(c.xd[0] + 0.1), bx2 = sx(c.xd[1]), by2 = sy(c.xd[1]);
    const cx = (ax + bx2) / 2, cy2 = (ay + by2) / 2, len = Math.hypot(bx2 - ax, by2 - ay) / 2;
    const ang = Math.atan2(by2 - ay, bx2 - ax) * 180 / Math.PI;
    c.rx.forEach((x, i) => mk('circle', {cx:sx(x - 0.15), cy:sy(c.ry[i] - 0.1), r:3.2, fill:'#bdbdbd'}, nm + '-gray-point'));
    mk('ellipse', {cx:cx, cy:cy2, rx:len, ry:c.w[ri], transform:'rotate(' + ang + ' ' + cx + ' ' + cy2 + ')', fill:'none', stroke:'#e0314a', 'stroke-width':1.8}, nm + '-confidence-ellipse');
    c.rx.forEach((x, i) => mk('circle', {cx:sx(x), cy:sy(c.ry[i]), r:3, fill:'#a3142a'}, nm + '-red-point'));
    c.bx.forEach((x, i) => mk('circle', {cx:sx(x), cy:sy(c.by[i]), r:3, fill:'#2a4fa8'}, nm + '-blue-point'));
    mk('rect', {x:c.x0, y:y0, width:c.x1 - c.x0, height:y1 - y0, fill:'none', stroke:'#111', 'stroke-width':1.6}, nm + '-frame');
    c.ticks.forEach(v => { line(c.x0 - 3, sy(v), c.x0, sy(v), '#111', 1, nm + '-y-tick'); txt(c.x0 - 2, sy(v) + 6, String(v), nm + '-y-tick-label', {size:16, anchor:'end'}); });
    txt(c.x1 - 3, y1 - 5, kTimes[ri], nm + '-time-label', {size:20, anchor:'end'});
    if (ri > 0 && ci > 0) {
      txt(sx(c.bx[0]) - 6, sy(c.by[0]) + 4, '30b', nm + '-label-30b', {size:10, fill:'#333', anchor:'end'});
      txt(sx(c.bx[1]) - 6, sy(c.by[1]) - 4, '30c', nm + '-label-30c', {size:10, fill:'#333', anchor:'end'});
    }
    if (ri > 0) txt(sx(c.rx[11]) - 4, sy(c.ry[11]) + 14, '155', nm + '-label-155', {size:10, fill:'#333'});
    if (ri > 1) txt(sx(c.rx[12]) + 4, sy(c.ry[12]) + 8, '149', nm + '-label-149', {size:10, fill:'#333'});
  });
  const sxb = lin(c.xd[0], c.xd[1], c.x0, c.x1);
  c.xt.forEach(v => { line(sxb(v), 1235.5, sxb(v), 1239, '#111', 1, 'k-' + c.nm + '-x-tick'); txt(sxb(v), 1254, String(v), 'k-' + c.nm + '-x-tick-label', {size:16, anchor:'middle'}); });
});
txt(845, 1274, 'TPM SD (log10)', 'k-x-axis-title', {size:17, anchor:'middle'});
txt(664, 1010, 'TPM Serum Stimulation (log10)', 'k-y-axis-title', {size:17, anchor:'middle', rot:-90});
txt(938, 810, '30c', 'k-3c05-1h-label-30c', {size:10, fill:'#333'});
txt(919, 827, '30b', 'k-3c05-1h-label-30b', {size:10, fill:'#333'});
txt(922, 841, '101', 'k-3c05-1h-label-101', {size:10, fill:'#333'});
</script>
</body></html>
